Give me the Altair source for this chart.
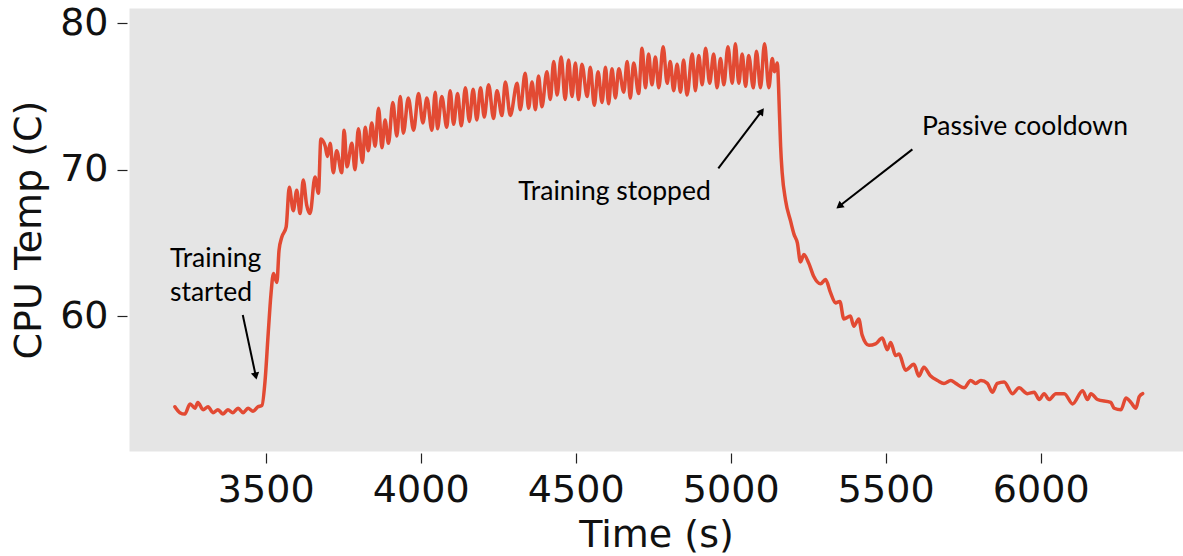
import altair as alt
import pandas as pd

# ---- CPU temperature trace ----
time_s = [
    3207, 3223, 3239, 3256, 3272, 3281, 3298, 3314, 3330, 3346, 3362, 3378, 3394, 3411, 3427, 3443, 3459, 3475, 3488,
    3498, 3508, 3517, 3525, 3536, 3543, 3552, 3566, 3576, 3589, 3600, 3611, 3621, 3632, 3643, 3659, 3670,
    3678, 3692, 3699, 3708, 3718, 3729, 3745, 3753, 3762, 3778, 3788, 3799, 3812, 3821, 3831, 3842, 3853,
    3864, 3875, 3885, 3896, 3910, 3923, 3934, 3944, 3960, 3977, 3993, 4007, 4020, 4036, 4047, 4054, 4068,
    4084, 4095, 4106, 4119, 4131, 4144, 4157, 4169, 4181, 4193, 4205,
    4219, 4235, 4246, 4262, 4273, 4289, 4311, 4321, 4337, 4348, 4359, 4370, 4380, 4391, 4407, 4418,
    4429, 4440, 4453, 4466, 4477, 4488, 4499, 4509, 4520, 4537, 4547, 4560, 4572, 4585, 4596, 4606, 4617,
    4628, 4639, 4655, 4666, 4676, 4687, 4703, 4714, 4725, 4735, 4746, 4757, 4768, 4782, 4795, 4805, 4816,
    4827, 4838, 4848, 4859, 4876, 4886, 4897, 4908, 4919, 4932, 4945, 4956, 4967, 4978, 4991, 5005, 5015,
    5026, 5037, 5048, 5058, 5073, 5083, 5096, 5109, 5123, 5134, 5141, 5150,
    5158, 5161, 5166, 5177, 5193, 5204, 5215, 5225, 5236, 5252, 5268, 5290, 5306, 5322, 5338, 5352, 5365,
    5386, 5397, 5413, 5424, 5446, 5467, 5489, 5505, 5516, 5532, 5543, 5564, 5591, 5607, 5623, 5645, 5667,
    5688, 5710, 5726, 5753, 5774, 5790, 5807, 5828, 5844, 5860, 5882, 5909, 5930, 5957, 5979, 5995, 6011,
    6027, 6049, 6076, 6103, 6135, 6151, 6162, 6183, 6226, 6237, 6259, 6275, 6291, 6307, 6318, 6329,
]
temp_c = [
    53.8, 53.4, 53.3, 54.0, 53.7, 54.1, 53.6, 53.8, 53.4, 53.6, 53.3, 53.6, 53.4, 53.7, 53.4, 53.7, 53.5, 53.8, 53.9,
    55.6, 58.8, 61.5, 62.9, 62.3, 64.5, 65.4, 66.1, 68.8, 67.2, 68.6, 67.0, 69.3, 67.6, 67.0, 69.5, 68.4,
    72.1, 71.6, 70.9, 71.8, 69.8, 71.3, 69.8, 72.7, 70.2, 71.8, 70.0, 72.8, 70.5, 72.9, 71.3, 73.2, 71.6,
    74.2, 71.5, 73.4, 71.8, 74.6, 72.3, 75.0, 72.5, 74.9, 72.7, 75.2, 73.2, 74.9, 72.7, 75.3, 72.8, 75.0,
    72.9, 75.4, 73.1, 75.2, 73.0, 75.6, 73.3, 75.5, 73.4, 75.6, 73.6,
    75.8, 73.5, 75.4, 73.7, 76.0, 73.7, 75.9, 74.1, 76.6, 74.2, 76.0, 74.1, 76.4, 74.3, 76.7, 74.8,
    77.4, 75.1, 77.7, 74.8, 77.5, 75.0, 77.3, 74.8, 77.2, 75.0, 77.0, 74.4, 76.7, 74.6, 77.0, 74.5, 76.9,
    74.9, 76.9, 75.3, 77.4, 74.9, 77.3, 75.2, 78.3, 75.6, 77.9, 75.8, 77.7, 75.6, 78.4, 75.9, 77.4, 75.4,
    77.2, 75.3, 77.5, 75.1, 77.9, 75.4, 77.8, 75.8, 78.3, 75.9, 77.9, 75.6, 77.6, 75.8, 78.4, 75.9, 78.6,
    75.9, 77.9, 75.7, 77.8, 75.6, 78.1, 75.6, 78.6, 75.6, 77.6, 76.7, 77.3,
    73.4, 71.6, 69.8, 67.9, 66.5, 65.6, 65.0, 63.7, 64.2, 63.6, 62.7, 62.2, 62.5, 61.6, 60.9, 61.0, 59.8,
    60.0, 59.3, 59.8, 58.7, 58.0, 58.1, 58.5, 57.7, 58.2, 57.3, 57.4, 56.3, 56.7, 55.9, 56.5, 55.9, 55.6,
    55.4, 55.6, 55.4, 55.1, 55.6, 55.4, 55.6, 55.4, 54.8, 55.4, 55.5, 54.7, 55.1, 54.7, 54.8, 54.3, 54.7,
    54.3, 54.7, 54.7, 54.0, 54.9, 54.3, 54.7, 54.3, 54.1, 53.7, 53.6, 54.4, 54.1, 53.7, 54.5, 54.7,
]

# ---- axes ----
x_ticks = [3500, 4000, 4500, 5000, 5500, 6000]
y_ticks = [60, 70, 80]
x_domain = [3059, 6459]
y_domain = [50.78, 81.05]

# ---- annotations ----
note_text = ["Training", "started", "Training stopped", "Passive cooldown"]
note_x = [3191, 3191, 4625, 5949]
note_y = [63.37, 61.05, 67.93, 72.37]
note_align = ["left", "left", "center", "center"]

arrow_x = [3426, 4960, 5586]
arrow_y = [60.07, 70.09, 71.39]
arrow_x2 = [3468, 5100, 5350]
arrow_y2 = [55.9, 74.0, 67.5]
arrow_angle = [168, 36, 232]

df = pd.DataFrame({"t": time_s, "temp": temp_c})
notes = pd.DataFrame({"text": note_text, "x": note_x, "y": note_y, "align": note_align})
arrows = pd.DataFrame({"x": arrow_x, "y": arrow_y, "x2": arrow_x2, "y2": arrow_y2, "angle": arrow_angle})

FONT = "DejaVu Sans"
NOTE_FONT = "Lato"
NOTE_SIZE = 26.5

xscale = alt.Scale(domain=x_domain, nice=False, zero=False)
yscale = alt.Scale(domain=y_domain, nice=False, zero=False)

line = alt.Chart(df).mark_line(color="#E24A33", strokeWidth=3.5, strokeJoin="round",
                               strokeCap="round", interpolate="monotone", clip=True).encode(
    x=alt.X("t:Q", scale=xscale, title="Time (s)",
            axis=alt.Axis(values=x_ticks, format="d", grid=False, domain=False,
                          tickSize=10, tickColor="#222222", tickWidth=1.2, offset=2,
                          labelFontSize=38, labelFont=FONT, labelColor="#111111", labelPadding=8,
                          titleFontSize=38, titleFont=FONT, titleFontWeight="normal",
                          titleColor="#111111", titlePadding=7)),
    y=alt.Y("temp:Q", scale=yscale, title="CPU Temp (C)",
            axis=alt.Axis(values=y_ticks, format="d", grid=False, domain=False,
                          tickSize=10, tickColor="#222222", tickWidth=1.2, offset=2,
                          labelFontSize=38, labelFont=FONT, labelColor="#111111", labelPadding=9,
                          titleFontSize=38, titleFont=FONT, titleFontWeight="normal",
                          titleColor="#111111", titlePadding=11)),
)

rules = alt.Chart(arrows).mark_rule(color="black", strokeWidth=2).encode(
    x=alt.X("x:Q", scale=xscale), y=alt.Y("y:Q", scale=yscale),
    x2="x2:Q", y2="y2:Q",
)

heads = alt.Chart(arrows).mark_point(shape="triangle-up", filled=True, color="black",
                                     size=70, opacity=1).encode(
    x=alt.X("x2:Q", scale=xscale), y=alt.Y("y2:Q", scale=yscale),
    angle=alt.Angle("angle:Q", scale=None),
)

texts_left = alt.Chart(notes[notes["align"] == "left"]).mark_text(
    font=NOTE_FONT, fontSize=NOTE_SIZE, align="left", baseline="alphabetic", color="black"
).encode(x=alt.X("x:Q", scale=xscale), y=alt.Y("y:Q", scale=yscale), text="text:N")

texts_center = alt.Chart(notes[notes["align"] == "center"]).mark_text(
    font=NOTE_FONT, fontSize=NOTE_SIZE, align="center", baseline="alphabetic", color="black"
).encode(x=alt.X("x:Q", scale=xscale), y=alt.Y("y:Q", scale=yscale), text="text:N")

chart = alt.layer(line, rules, heads, texts_left, texts_center).properties(
    width=1054, height=443,
    autosize=alt.AutoSizeParams(type="none"),
    padding={"left": 129, "top": 8, "right": 0, "bottom": 105},
    background="white",
).configure_view(fill="#E5E5E5", stroke="transparent")

chart.save("out.html", embed_options={"renderer": "svg", "actions": False})
